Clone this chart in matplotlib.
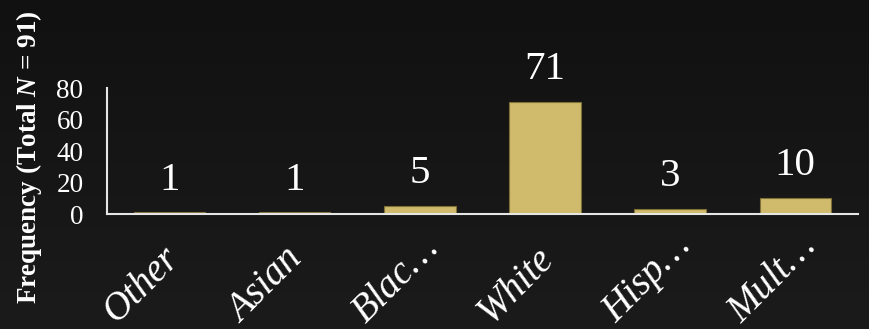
import matplotlib
matplotlib.use("Agg")
import matplotlib.pyplot as plt
import matplotlib.transforms as mtransforms
import numpy as np

# frequencies per group, total N = 91
tick_labels = ["Other", "Asian", "Blac…", "White", "Hisp…", "Mult…"]
counts = [1, 1, 5, 71, 3, 10]
y_ticks = [0, 20, 40, 60, 80]

plt.rcParams["font.family"] = ["Liberation Serif", "DejaVu Serif"]
plt.rcParams["mathtext.fontset"] = "custom"
plt.rcParams["mathtext.rm"] = "Liberation Serif"
plt.rcParams["mathtext.bfit"] = "Liberation Serif:italic:bold"

bar_color = "#cfbb6b"
text_color = "white"

fig = plt.figure(figsize=(8.7, 3.29), dpi=100)

# dark backdrop, a touch lighter towards the bottom
bg = fig.add_axes([0, 0, 1, 1], zorder=-1)
grad = np.linspace(0.067, 0.106, 256).reshape(-1, 1)
bg.imshow(np.dstack([grad, grad, grad]), aspect="auto", extent=[0, 1, 0, 1], origin="upper")
bg.set_axis_off()

ax = fig.add_axes([0.123, 0.3495, 0.863, 0.383])
ax.set_facecolor("none")

x = np.arange(len(counts))
bars = ax.bar(x, counts, width=0.57, color=bar_color, edgecolor="#7f7036", linewidth=0.8)

for xi, c in zip(x, counts):
    ax.annotate(str(c), (xi, c), xytext=(0, 16.5), textcoords="offset points",
                ha="center", va="baseline", fontsize=29.5, color=text_color)

ax.set_xlim(-0.5, len(counts) - 0.5)
ax.set_ylim(0, 80)
ax.set_yticks(y_ticks)
ax.tick_params(axis="both", length=0, colors=text_color)
ax.tick_params(axis="y", labelsize=19.5, pad=17)
ax.tick_params(axis="x", pad=0)

ax.set_xticks(x)
ax.set_xticklabels(tick_labels, rotation=45, ha="left", va="baseline",
                   rotation_mode="anchor", fontsize=28, fontstyle="italic")
# labels start below-left of their tick and climb to the right
shift = mtransforms.ScaledTranslation(-0.54, -1.10, fig.dpi_scale_trans)
for lab in ax.get_xticklabels():
    lab.set_transform(lab.get_transform() + shift)

ax.set_ylabel(r"Frequency (Total $\mathbfit{N}$ = 91)", fontsize=19.5,
              fontweight="bold", color=text_color)
ax.yaxis.set_label_coords(-0.084, 0.448)

for side in ("top", "right"):
    ax.spines[side].set_visible(False)
for side in ("left", "bottom"):
    ax.spines[side].set_color("#e6e6e6")
    ax.spines[side].set_linewidth(1.5)

fig.savefig("out.png", dpi=100)
